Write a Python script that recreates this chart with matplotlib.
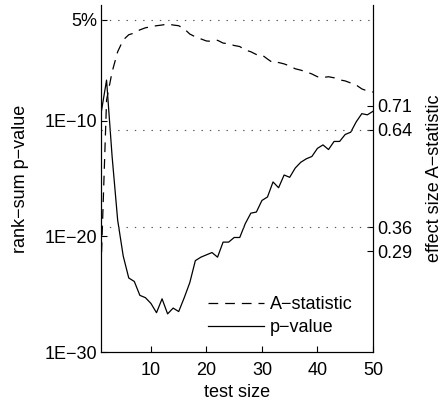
import matplotlib.pyplot as plt
import numpy as np

plt.rcParams['font.family'] = ['Liberation Sans', 'DejaVu Sans']
plt.rcParams['lines.scale_dashes'] = False

test_size = np.arange(1, 51)
log_p = [-9.4, -6.5, -13.1, -18.6, -21.7, -23.6, -23.9, -25.1, -25.3, -25.8,
         -26.6, -25.4, -26.7, -26.2, -26.5, -25.3, -24.0, -22.1, -21.8, -21.6,
         -21.4, -21.8, -20.5, -20.5, -20.1, -20.1, -18.9, -18.0, -17.9, -16.9,
         -16.6, -15.3, -15.8, -14.7, -14.9, -14.1, -13.6, -13.3, -13.1, -12.4,
         -12.1, -12.5, -11.8, -11.8, -11.2, -11.0, -10.1, -9.4, -9.5, -9.2]
a_stat = [0.24, 0.726, 0.807, 0.865, 0.899, 0.914, 0.919, 0.928, 0.934, 0.937,
          0.940, 0.942, 0.945, 0.942, 0.940, 0.931, 0.916, 0.908, 0.902, 0.896,
          0.895, 0.898, 0.890, 0.888, 0.883, 0.880, 0.870, 0.865, 0.857, 0.856,
          0.844, 0.833, 0.834, 0.830, 0.824, 0.816, 0.812, 0.807, 0.801, 0.793,
          0.791, 0.793, 0.790, 0.784, 0.781, 0.775, 0.769, 0.758, 0.752, 0.749]
p_value = 10.0 ** np.array(log_p)

p_ticks = [1e-30, 1e-20, 1e-10, 0.05]
p_labels = ['1E\u221230', '1E\u221220', '1E\u221210', '5%']
a_ticks = [0.29, 0.36, 0.64, 0.71]
a_labels = ['0.29', '0.36', '0.64', '0.71']
x_ticks = [10, 20, 30, 40, 50]

fig = plt.figure(figsize=(4.45, 4.07), dpi=100)
ax = fig.add_axes([0.227, 0.135, 0.611, 0.853])
ax2 = ax.twinx()

fs = 13
dot = (0, (1, 5))
ax.axhline(0.05, color='#555555', lw=0.8, ls=dot)
ax2.axhline(0.64, color='#555555', lw=0.8, ls=dot)
ax2.axhline(0.36, color='#555555', lw=0.8, ls=dot)

l_p, = ax.plot(test_size, p_value, color='black', lw=0.9, label='p\u2212value')
l_a, = ax2.plot(test_size, a_stat, color='black', lw=0.9, label='A\u2212statistic')
l_a.set_dashes((7, 5))

ax.set_yscale('log')
ax.set_ylim(1e-30, 1)
ax.set_xlim(1, 50)
ax2.set_ylim(0, 1)

ax.set_yticks(p_ticks)
ax.set_yticklabels(p_labels)
ax.yaxis.set_minor_locator(plt.NullLocator())
ax2.set_yticks(a_ticks)
ax2.set_yticklabels(a_labels)
ax.set_xticks(x_ticks)

for a in (ax, ax2):
    a.tick_params(direction='in', labelsize=fs, length=4, width=0.8, pad=3)
    a.spines['top'].set_visible(False)
    for s in a.spines.values():
        s.set_linewidth(0.8)
ax.tick_params(axis='x', pad=7)

ax.set_xlabel('test size', fontsize=fs, labelpad=4)
ax.set_ylabel('rank\u2212sum p\u2212value', fontsize=fs, labelpad=11)
ax2.set_ylabel('effect size A\u2212statistic', fontsize=fs, labelpad=10)

ax.legend([l_a, l_p], ['A\u2212statistic', 'p\u2212value'], loc='lower right',
          frameon=False, fontsize=fs, handlelength=3.1, handletextpad=0.35,
          labelspacing=0.3, borderpad=0.3, bbox_to_anchor=(0.98, 0.005))

fig.savefig('out.png', dpi=100)
